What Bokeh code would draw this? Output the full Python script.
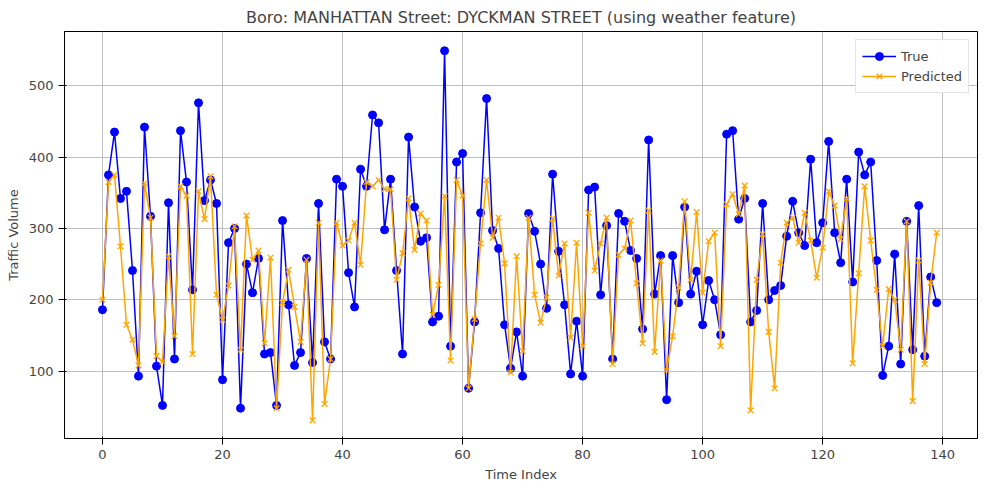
from bokeh.plotting import figure
from bokeh.embed import file_html
from bokeh.resources import INLINE
from bokeh.models import Range1d, SingleIntervalTicker, Legend, LegendItem

true_vals = [186,375,435,342,352,241,93,442,317,107,52,336,117,437,365,214,476,339,368,335,
             88,280,300,48,250,210,258,124,126,52,311,193,108,126,258,112,335,141,117,369,
             359,238,190,383,359,459,448,298,369,241,124,428,330,282,287,169,177,549,135,393,
             405,76,169,322,482,297,272,165,104,155,93,321,296,250,188,376,268,193,96,170,
             93,354,358,207,304,117,321,310,269,258,159,424,208,262,60,262,196,330,208,240,
             165,227,200,151,432,437,313,342,169,185,335,200,213,220,289,338,294,276,397,280,
             308,422,294,252,369,225,407,375,393,255,94,135,264,110,310,130,332,121,232,196]
pred_vals = [200,365,375,275,165,144,108,363,315,121,113,261,149,359,346,124,352,313,373,207,
             172,220,303,130,318,256,269,139,259,48,196,242,190,141,256,31,308,54,117,308,
             276,283,308,249,365,359,368,355,355,228,265,342,270,321,311,179,221,345,115,368,
             346,76,173,279,368,287,315,251,98,261,128,315,207,168,203,314,234,279,147,280,
             135,322,241,279,315,110,263,272,311,223,139,325,127,255,101,149,217,338,228,323,
             210,282,294,135,334,348,320,360,45,228,292,155,76,252,308,315,280,322,283,231,
             273,352,332,285,342,111,237,359,283,214,135,215,200,130,310,58,255,110,224,294]
idx = list(range(len(true_vals)))

p = figure(width=984, height=484, output_backend="svg", toolbar_location=None,
           x_range=Range1d(-6.33, 145.8), y_range=Range1d(5.6, 576),
           title="Boro: MANHATTAN Street: DYCKMAN STREET (using weather feature)",
           min_border_left=64, min_border_right=7, min_border_top=29, min_border_bottom=42)
p.title.align = "center"
p.title.text_font = "DejaVu Sans"
p.title.text_font_size = "16px"
p.title.text_font_style = "normal"
p.xaxis.axis_label = "Time Index"
p.yaxis.axis_label = "Traffic Volume"
for ax in (p.xaxis[0], p.yaxis[0]):
    ax.axis_label_text_font = "DejaVu Sans"
    ax.axis_label_text_font_size = "13px"
    ax.axis_label_text_font_style = "normal"
    ax.major_label_text_font = "DejaVu Sans"
    ax.major_label_text_font_size = "13px"
    ax.minor_tick_line_color = None
    ax.axis_line_color = "black"
    ax.major_tick_line_color = "black"
p.xaxis.ticker = SingleIntervalTicker(interval=20)
p.yaxis.ticker = SingleIntervalTicker(interval=100)
p.grid.grid_line_color = "#b0b0b0"
p.grid.grid_line_width = 0.8
p.outline_line_color = "black"

l1 = p.line(idx, true_vals, color="blue", line_width=1.5)
c1 = p.scatter(idx, true_vals, color="blue", size=8)
l2 = p.line(idx, pred_vals, color="orange", line_width=1.5)
c2 = p.scatter(idx, pred_vals, color="orange", marker="x", size=8, line_width=1.3)

legend = Legend(items=[LegendItem(label="True", renderers=[l1, c1]),
                       LegendItem(label="Predicted", renderers=[l2, c2])],
                location="top_right", label_text_font="DejaVu Sans", label_text_font_size="13px",
                border_line_color="#cccccc", spacing=0, padding=6, margin=8,
                glyph_width=34)
p.add_layout(legend)

open("out.html", "w").write(file_html(p, INLINE))
